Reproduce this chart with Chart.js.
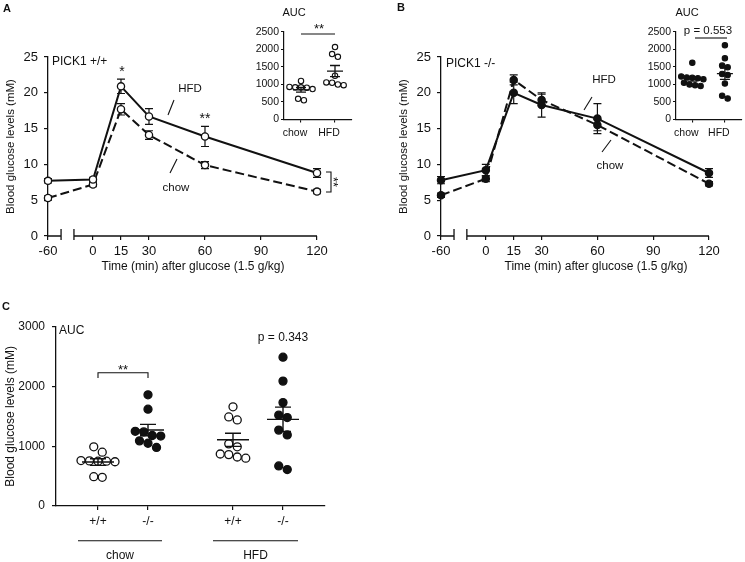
<!DOCTYPE html>
<html><head><meta charset="utf-8"><title>PICK1 glucose tolerance</title>
<script src="https://cdn.jsdelivr.net/npm/chart.js@4.4.1/dist/chart.umd.min.js"></script>
<style>
html,body{margin:0;padding:0;background:#fff;}
#fig{position:relative;width:745px;height:562px;overflow:hidden;background:#fff;}
#fig canvas{position:absolute;}
</style></head><body>
<div id="fig">
<canvas id="cA" width="372" height="282" style="left:0px;top:0px"></canvas>
<canvas id="cB" width="373" height="282" style="left:372px;top:0px"></canvas>
<canvas id="cC" width="372" height="282" style="left:0px;top:280px"></canvas>
<canvas id="cAi" width="120" height="145" style="left:240px;top:0px"></canvas>
<canvas id="cBi" width="135" height="145" style="left:610px;top:0px"></canvas>
</div>
<script>
// ================= DATA =================
const timePoints = [-60, 0, 15, 30, 60, 120];
const timeTickValues = [-60, 0, 15, 30, 60, 90, 120];
const timeTickLabels = ['-60', '0', '15', '30', '60', '90', '120'];

// Panel A: PICK1 +/+
const wtHFD     = [7.7, 7.9, 20.9, 16.7, 13.9, 8.8];
const wtHFDsem  = [0.3, 0.3, 1.0, 1.1, 1.4, 0.6];
const wtChow    = [5.3, 7.2, 17.7, 14.1, 9.9, 6.2];
const wtChowSem = [0.3, 0.3, 0.8, 0.6, 0.5, 0.3];

// Panel B: PICK1 -/-
const koHFD     = [7.8, 9.2, 20.0, 18.3, 16.4, 8.8];
const koHFDsem  = [0.5, 0.8, 1.5, 1.7, 2.1, 0.6];
const koChow    = [5.7, 8.0, 21.8, 19.0, 15.5, 7.3];
const koChowSem = [0.3, 0.4, 0.7, 0.8, 0.8, 0.3];

// Insets (AUC)
const aucGroups  = ['chow', 'HFD'];
const aucWtChow  = [1100, 930, 920, 920, 910, 870, 590, 550];
const aucWtHFD   = [2070, 1870, 1790, 1250, 1060, 1050, 1000, 980];
const aucKoChow  = [1620, 1230, 1200, 1190, 1180, 1150, 1050, 1000, 980, 960];
const aucKoHFD   = [2120, 1750, 1540, 1490, 1300, 1270, 1030, 680, 600];

// Panel C (AUC)
const cTickLabels = ['+/+', '-/-', '+/+', '-/-'];
const cDiets      = ['chow', 'HFD'];
const cWtChow = [990, 900, 760, 755, 750, 750, 740, 490, 480];
const cKoChow = [1860, 1620, 1250, 1240, 1180, 1170, 1090, 1050, 980];
const cWtHFD  = [1660, 1490, 1440, 1040, 990, 870, 860, 820, 800];
const cKoHFD  = [2490, 2090, 1730, 1520, 1480, 1270, 1190, 670, 610];

// ================= STYLE / LAYOUT =================
const FONT = "'Liberation Sans', Arial, Helvetica, sans-serif";
const INK = '#111';
Chart.defaults.font.family = FONT;
Chart.defaults.color = INK;

const PRE = -24.1;              // axis position used for the -60 min point (broken axis)
const BREAK = [-17.1, -10.2];   // ends of the axis break
const xPos = t => (t === -60 ? PRE : t);
const cPos = [1, 2, 3.7, 4.7];  // positions of the 4 groups in panel C

function drawNotes(chart, notes) {
  if (!notes) return;
  const ctx = chart.ctx, c = chart.canvas;
  const ox = parseFloat(c.style.left) || 0, oy = parseFloat(c.style.top) || 0;
  notes.forEach(n => {
    ctx.save();
    if (n.t === 'line') {
      ctx.strokeStyle = INK; ctx.lineWidth = n.w || 1.1; ctx.setLineDash([]);
      ctx.beginPath();
      for (let i = 0; i < n.p.length; i += 2) {
        const X = n.p[i] - ox, Y = n.p[i + 1] - oy;
        if (i === 0) ctx.moveTo(X, Y); else ctx.lineTo(X, Y);
      }
      ctx.stroke();
    } else {
      ctx.fillStyle = INK;
      ctx.font = (n.bold ? 'bold ' : '') + n.size + 'px ' + FONT;
      ctx.textAlign = n.align || 'center';
      ctx.textBaseline = n.base || 'middle';
      ctx.translate(n.x - ox, n.y - oy);
      if (n.rot) ctx.rotate(n.rot);
      ctx.fillText(n.s, 0, 0);
    }
    ctx.restore();
  });
}

function swarm(values, center, bin, step) {
  const idx = values.map((v, i) => i).sort((a, b) => values[b] - values[a]);
  const rows = []; let cur = null;
  idx.forEach(i => {
    if (!cur || values[cur[0]] - values[i] > bin) { cur = [i]; rows.push(cur); }
    else cur.push(i);
  });
  const pts = [];
  rows.forEach(r => r.forEach((i, k) => pts.push({ x: center + (k - (r.length - 1) / 2) * step, y: values[i] })));
  return pts;
}
function stats(v) {
  const n = v.length, m = v.reduce((a, b) => a + b, 0) / n;
  const sd = Math.sqrt(v.reduce((a, b) => a + (b - m) * (b - m), 0) / (n - 1));
  return { m, sem: sd / Math.sqrt(n) };
}

// ---------- time-course panels ----------
const tcPlugin = {
  id: 'tc',
  beforeDatasetsDraw(chart) {
    const { ctx, scales: { x, y } } = chart;
    ctx.save(); ctx.strokeStyle = INK; ctx.lineWidth = 1.2; ctx.setLineDash([]);
    chart.data.datasets.forEach(ds => {
      if (!ds.sem) return;
      ds.data.forEach((p, i) => {
        const e = ds.sem[i];
        const px = x.getPixelForValue(p.x), t = y.getPixelForValue(p.y + e), b = y.getPixelForValue(p.y - e);
        ctx.beginPath();
        ctx.moveTo(px, t); ctx.lineTo(px, b);
        ctx.moveTo(px - 4, t); ctx.lineTo(px + 4, t);
        ctx.moveTo(px - 4, b); ctx.lineTo(px + 4, b);
        ctx.stroke();
      });
    });
    ctx.restore();
  },
  afterDraw(chart, args, opts) {
    const { ctx, scales: { x }, chartArea: a } = chart;
    const yb = a.bottom;
    const p0 = x.getPixelForValue(PRE), p1 = x.getPixelForValue(BREAK[0]);
    const p2 = x.getPixelForValue(BREAK[1]), p3 = x.getPixelForValue(120);
    ctx.save(); ctx.strokeStyle = INK; ctx.lineWidth = 1.3; ctx.setLineDash([]);
    ctx.beginPath();
    ctx.moveTo(p0, yb); ctx.lineTo(p1, yb);
    ctx.moveTo(p2, yb); ctx.lineTo(p3, yb);
    ctx.moveTo(p1, yb - 7); ctx.lineTo(p1, yb + 4);
    ctx.moveTo(p2, yb - 7); ctx.lineTo(p2, yb + 4);
    ctx.stroke(); ctx.restore();
    drawNotes(chart, opts.notes);
  }
};

function tcDataset(label, vals, sem, filled, dashed) {
  return {
    label, data: timePoints.map((t, i) => ({ x: xPos(t), y: vals[i] })), sem,
    borderColor: INK, borderWidth: 2, borderDash: dashed ? [9, 4] : [],
    pointRadius: 3.6, pointHoverRadius: 3.6, pointBorderWidth: 1.3,
    pointBackgroundColor: filled ? INK : '#fff', pointBorderColor: INK,
    tension: 0, fill: false, clip: false
  };
}

function makeTimeCourse(id, hfd, hfdSem, chow, chowSem, filled, padLeft, padRight, notes) {
  const tickPos = timeTickValues.map(xPos);
  return new Chart(document.getElementById(id), {
    type: 'line',
    data: { datasets: [tcDataset('HFD', hfd, hfdSem, filled, false), tcDataset('chow', chow, chowSem, filled, true)] },
    options: {
      responsive: false, animation: false, devicePixelRatio: 1,
      layout: { padding: { left: padLeft, right: padRight, top: 57, bottom: 4 } },
      plugins: { legend: { display: false }, tooltip: { enabled: false }, tc: { notes } },
      scales: {
        x: {
          type: 'linear', min: PRE, max: 120,
          afterBuildTicks: s => { s.ticks = tickPos.map(v => ({ value: v })); },
          afterFit: s => { s.height = 42; },
          ticks: { callback: v => timeTickLabels[tickPos.indexOf(v)], autoSkip: false, maxRotation: 0, padding: 4, font: { size: 13 }, color: INK },
          grid: { display: true, drawOnChartArea: false, drawTicks: true, tickLength: 4, color: INK, lineWidth: 1.2 },
          border: { display: false }
        },
        y: {
          min: 0, max: 25,
          afterFit: s => { s.width = 48; },
          ticks: { stepSize: 5, padding: 6, font: { size: 13 }, color: INK },
          grid: { display: true, drawOnChartArea: false, drawTicks: true, tickLength: 4, color: INK, lineWidth: 1.2 },
          border: { display: true, color: INK, width: 1.3 },
          title: { display: true, text: 'Blood glucose levels (mM)', font: { size: 11.5 }, color: INK, padding: { top: 4, bottom: 0 } }
        }
      }
    },
    plugins: [tcPlugin]
  });
}

// ---------- scatter (AUC) panels ----------
const scPlugin = {
  id: 'sc',
  afterDatasetsDraw(chart, args, opts) {
    const { ctx, scales: { x, y } } = chart;
    ctx.save(); ctx.strokeStyle = INK; ctx.lineWidth = opts.lw || 1.4;
    (opts.groups || []).forEach(g => {
      const s = stats(g.values);
      const px = x.getPixelForValue(g.x);
      const pm = y.getPixelForValue(s.m), pt = y.getPixelForValue(s.m + s.sem), pb = y.getPixelForValue(s.m - s.sem);
      ctx.beginPath();
      ctx.moveTo(px - opts.halfW, pm); ctx.lineTo(px + opts.halfW, pm);
      ctx.moveTo(px, pt); ctx.lineTo(px, pb);
      ctx.moveTo(px - opts.cap, pt); ctx.lineTo(px + opts.cap, pt);
      ctx.moveTo(px - opts.cap, pb); ctx.lineTo(px + opts.cap, pb);
      ctx.stroke();
    });
    ctx.restore();
  },
  afterDraw(chart, args, opts) {
    drawNotes(chart, opts.notes);
    if (opts.extra) opts.extra(chart);
  }
};

function ptSet(points, filled, r) {
  return {
    data: points, showLine: false, pointRadius: r, pointHoverRadius: r, pointBorderWidth: r > 3 ? 1.3 : 1.1,
    pointBackgroundColor: filled ? INK : '#fff', pointBorderColor: INK, clip: false
  };
}

function makeInset(id, chowVals, hfdVals, filled, padLeft, padRight, notes) {
  return new Chart(document.getElementById(id), {
    type: 'scatter',
    data: { datasets: [ptSet(swarm(chowVals, 0, 160, 0.17), filled, 2.7), ptSet(swarm(hfdVals, 1, 160, 0.17), filled, 2.7)] },
    options: {
      responsive: false, animation: false, devicePixelRatio: 1,
      layout: { padding: { left: padLeft, right: padRight, top: 32, bottom: 3.5 } },
      plugins: {
        legend: { display: false }, tooltip: { enabled: false },
        sc: { groups: [{ x: 0, values: chowVals }, { x: 1, values: hfdVals }], halfW: 8, cap: 5, lw: 1.3, notes }
      },
      scales: {
        x: {
          type: 'linear', min: -0.5, max: 1.5,
          afterBuildTicks: s => { s.ticks = [{ value: 0 }, { value: 1 }]; },
          afterFit: s => { s.height = 22; },
          ticks: { callback: v => aucGroups[Math.round(v)], autoSkip: false, maxRotation: 0, padding: 4, labelOffset: -6, font: { size: 10.5 }, color: INK },
          grid: { display: true, drawOnChartArea: false, drawTicks: true, tickLength: 3, color: INK, lineWidth: 1.1 },
          border: { display: true, color: INK, width: 1.2 }
        },
        y: {
          min: 0, max: 2500,
          afterFit: s => { s.width = 44; },
          ticks: { stepSize: 500, padding: 2, callback: v => String(v), font: { size: 10.5 }, color: INK },
          grid: { display: true, drawOnChartArea: false, drawTicks: true, tickLength: 3, color: INK, lineWidth: 1.1 },
          border: { display: true, color: INK, width: 1.2 }
        }
      }
    },
    plugins: [scPlugin]
  });
}

// ================= BUILD =================
makeTimeCourse('cA', wtHFD, wtHFDsem, wtChow, wtChowSem, false, 0, 55, [
  { s: 'A', x: 3, y: 9, size: 11, bold: true, align: 'left' },
  { s: 'PICK1 +/+', x: 52, y: 62, size: 12, align: 'left' },
  { s: '*', x: 122, y: 76, size: 14, base: 'alphabetic' },
  { s: '**', x: 205, y: 123, size: 14, base: 'alphabetic' },
  { s: 'HFD', x: 190, y: 89, size: 11.5 },
  { t: 'line', p: [168, 115, 174, 100] },
  { s: 'chow', x: 176, y: 188, size: 11.5 },
  { t: 'line', p: [170, 173, 177, 159] },
  { t: 'line', p: [326, 172, 331, 172, 331, 192, 326, 192] },
  { s: '**', x: 329, y: 182, size: 13, base: 'alphabetic', rot: Math.PI / 2 },
  { s: 'Time (min) after glucose (1.5 g/kg)', x: 193, y: 267, size: 12 }
]);

makeTimeCourse('cB', koHFD, koHFDsem, koChow, koChowSem, true, 21, 36, [
  { s: 'B', x: 397, y: 8, size: 11, bold: true, align: 'left' },
  { s: 'PICK1 -/-', x: 446, y: 64, size: 12, align: 'left' },
  { s: 'HFD', x: 604, y: 80, size: 11.5 },
  { t: 'line', p: [584, 110, 592, 97] },
  { s: 'chow', x: 610, y: 166, size: 11.5 },
  { t: 'line', p: [602, 152, 611, 140] },
  { s: 'Time (min) after glucose (1.5 g/kg)', x: 596, y: 267, size: 12 }
]);

makeInset('cAi', aucWtChow, aucWtHFD, false, 0, 8, [
  { s: 'AUC', x: 294, y: 13, size: 11 },
  { s: '**', x: 319, y: 33, size: 13, base: 'alphabetic' },
  { t: 'line', p: [301, 34, 335, 34] }
]);

makeInset('cBi', aucKoChow, aucKoHFD, true, 22, 1, [
  { s: 'AUC', x: 687, y: 13, size: 11 },
  { s: 'p = 0.553', x: 708, y: 31, size: 11.5 },
  { t: 'line', p: [695, 38, 727, 38] }
]);

// Panel C
new Chart(document.getElementById('cC'), {
  type: 'scatter',
  data: {
    datasets: [
      ptSet(swarm(cWtChow, cPos[0], 134, 0.17), false, 4),
      ptSet(swarm(cKoChow, cPos[1], 134, 0.17), true, 4),
      ptSet(swarm(cWtHFD, cPos[2], 134, 0.17), false, 4),
      ptSet(swarm(cKoHFD, cPos[3], 134, 0.17), true, 4)
    ]
  },
  options: {
    responsive: false, animation: false, devicePixelRatio: 1,
    layout: { padding: { left: 0, right: 47, top: 46.7, bottom: 31 } },
    plugins: {
      legend: { display: false }, tooltip: { enabled: false },
      sc: {
        groups: [
          { x: cPos[0], values: cWtChow }, { x: cPos[1], values: cKoChow },
          { x: cPos[2], values: cWtHFD }, { x: cPos[3], values: cKoHFD }
        ],
        halfW: 16, cap: 8, lw: 1.4,
        notes: [
          { s: 'C', x: 2, y: 307, size: 11, bold: true, align: 'left' },
          { s: 'AUC', x: 59, y: 331, size: 12, align: 'left' },
          { s: 'p = 0.343', x: 283, y: 338, size: 12 }
        ],
        extra(chart) {
          const { ctx, scales: { x, y } } = chart;
          const x1 = x.getPixelForValue(cPos[0]), x2 = x.getPixelForValue(cPos[1]);
          const x3 = x.getPixelForValue(cPos[2]), x4 = x.getPixelForValue(cPos[3]);
          const yb = y.getPixelForValue(2230), yt = y.getPixelForValue(2140);
          const y0 = y.getPixelForValue(0);
          ctx.save(); ctx.strokeStyle = INK; ctx.lineWidth = 1.1;
          ctx.beginPath();
          ctx.moveTo(x1, yt); ctx.lineTo(x1, yb); ctx.lineTo(x2, yb); ctx.lineTo(x2, yt);
          ctx.moveTo(x1 - 20, y0 + 34.7); ctx.lineTo(x2 + 14, y0 + 34.7);
          ctx.moveTo(x3 - 20, y0 + 34.7); ctx.lineTo(x4 + 15, y0 + 34.7);
          ctx.stroke();
          ctx.fillStyle = INK; ctx.textAlign = 'center';
          ctx.font = '13px ' + FONT; ctx.textBaseline = 'alphabetic';
          ctx.fillText('**', (x1 + x2) / 2, yb + 1);
          ctx.font = '12px ' + FONT; ctx.textBaseline = 'middle';
          ctx.fillText(cDiets[0], (x1 - 20 + x2 + 14) / 2, y0 + 50);
          ctx.fillText(cDiets[1], (x3 - 20 + x4 + 15) / 2, y0 + 50);
          ctx.restore();
        }
      }
    },
    scales: {
      x: {
        type: 'linear', min: 0.16, max: 5.54,
        afterBuildTicks: s => { s.ticks = cPos.map(v => ({ value: v })); },
        afterFit: s => { s.height = 25; },
        ticks: { callback: v => cTickLabels[cPos.indexOf(v)], autoSkip: false, maxRotation: 0, padding: 4.5, font: { size: 12 }, color: INK },
        grid: { display: true, drawOnChartArea: false, drawTicks: true, tickLength: 4, color: INK, lineWidth: 1.2 },
        border: { display: true, color: INK, width: 1.3 }
      },
      y: {
        min: 0, max: 3000,
        afterFit: s => { s.width = 56; },
        ticks: { stepSize: 1000, padding: 7, callback: v => String(v), font: { size: 12 }, color: INK },
        grid: { display: true, drawOnChartArea: false, drawTicks: true, tickLength: 4, color: INK, lineWidth: 1.2 },
        border: { display: true, color: INK, width: 1.3 },
        title: { display: true, text: 'Blood glucose levels (mM)', font: { size: 12 }, color: INK, padding: { top: 3, bottom: 0 } }
      }
    }
  },
  plugins: [scPlugin]
});
</script>
</body></html>
